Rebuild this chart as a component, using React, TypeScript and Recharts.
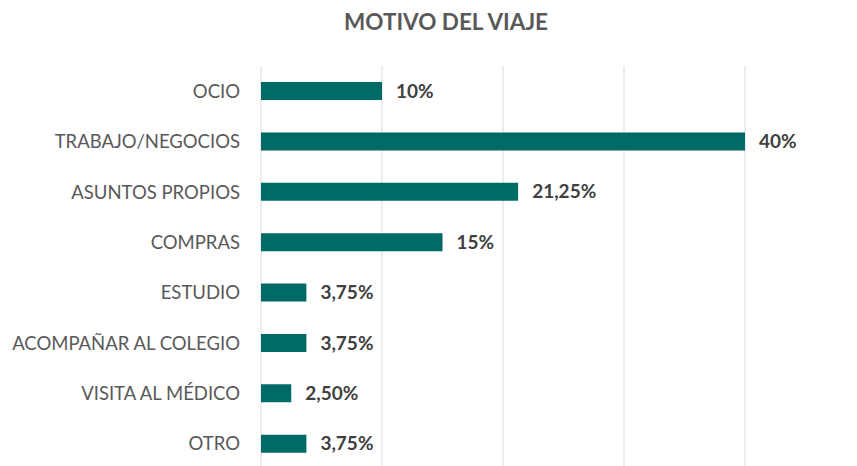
import { BarChart, Bar, XAxis, YAxis, CartesianGrid, LabelList } from 'recharts'

const categories = [
  'OCIO',
  'TRABAJO/NEGOCIOS',
  'ASUNTOS PROPIOS',
  'COMPRAS',
  'ESTUDIO',
  'ACOMPAÑAR AL COLEGIO',
  'VISITA AL MÉDICO',
  'OTRO',
]
const percentages = [10, 40, 21.25, 15, 3.75, 3.75, 2.5, 3.75]
const valueLabels = ['10%', '40%', '21,25%', '15%', '3,75%', '3,75%', '2,50%', '3,75%']
const xTicks = [0, 10, 20, 30, 40]

const data = categories.map((name, i) => ({
  name,
  value: percentages[i],
  label: valueLabels[i],
}))

const FONT = 'Lato, "Open Sans", sans-serif'

export default function App() {
  return (
    <div style={{ position: 'absolute', left: 0, top: 0, width: 857, height: 466, overflow: 'hidden', background: '#fff' }}>
      <BarChart
        width={857}
        height={472}
        data={data}
        layout="vertical"
        margin={{ top: 66, right: 112, bottom: 3, left: 0 }}
      >
        <text x={446} y={30} textAnchor="middle" fill="#595959" fontFamily={FONT} fontWeight={700} fontSize={22.5}>
          MOTIVO DEL VIAJE
        </text>
        <CartesianGrid horizontal={false} stroke="#d9d9d9" />
        <XAxis type="number" domain={[0, 40]} ticks={xTicks} hide />
        <YAxis
          type="category"
          dataKey="name"
          width={261}
          axisLine={false}
          tickLine={false}
          tickSize={0}
          tickMargin={21}
          tick={{ fill: '#595959', fontSize: 18.5, fontFamily: FONT }}
        />
        <Bar dataKey="value" fill="#006a66" barSize={18} isAnimationActive={false}>
          <LabelList
            dataKey="label"
            position="right"
            offset={14}
            fill="#404040"
            fontSize={19}
            fontWeight={700}
            fontFamily={FONT}
          />
        </Bar>
      </BarChart>
    </div>
  )
}
